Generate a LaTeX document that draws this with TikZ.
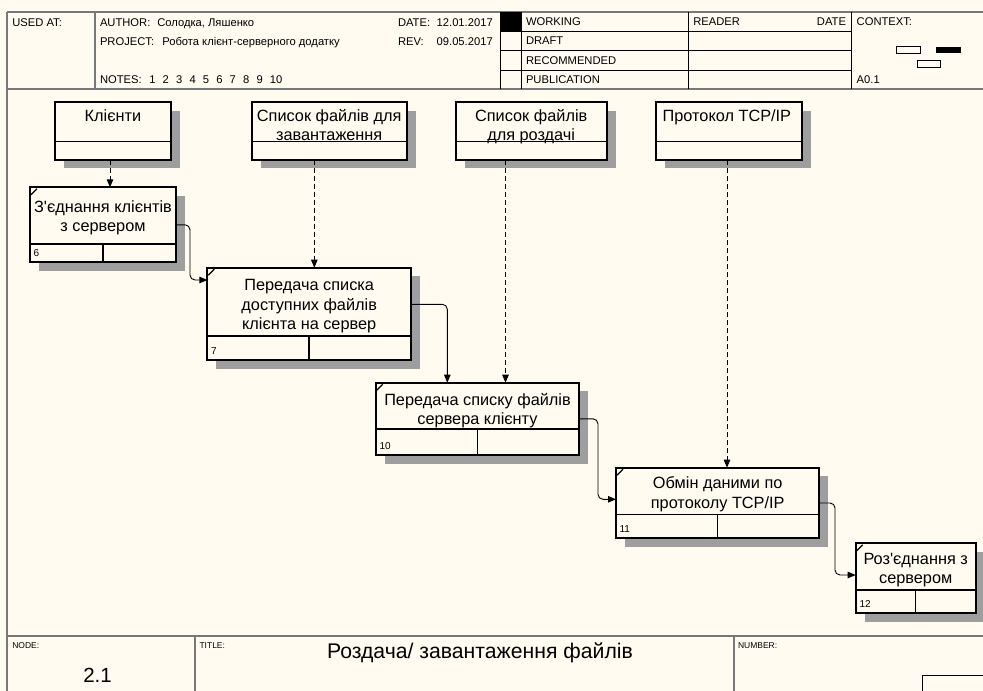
\documentclass[tikz,border=0pt]{standalone}
\usepackage{fontspec}
\setmainfont{Liberation Sans}[Ligatures=TeXOff]
\usetikzlibrary{calc,arrows.meta,shadows}
\definecolor{paper}{RGB}{255,251,240}
\definecolor{framegray}{RGB}{120,120,120}
\definecolor{shadowgray}{RGB}{158,158,158}

\begin{document}
\begin{tikzpicture}[x=1pt,y=-1pt,
  every node/.style={inner sep=0pt,outer sep=0pt},
  frameline/.style={draw=framegray,line width=2pt},
  cellline/.style={draw=black,line width=0.9pt},
  hdr/.style={font=\fontsize{11.2}{13}\selectfont,anchor=base west},
  tiny/.style={font=\fontsize{8.5}{10}\selectfont,anchor=base west},
  boxtxt/.style={font=\fontsize{16.3}{19}\selectfont,anchor=base},
  numtxt/.style={font=\fontsize{10}{12}\selectfont,anchor=base west},
  idefbox/.style={draw,line width=1.8pt,fill=paper,anchor=north west,
    drop shadow={shadow xshift=9pt,shadow yshift=-8.5pt,fill=shadowgray,opacity=1}},
  flow/.style={draw,line width=0.9pt,rounded corners=5pt,
    -{Triangle[length=8pt,width=6.5pt]}},
  ctrl/.style={draw,line width=0.9pt,dash pattern=on 5pt off 3pt,
    -{Triangle[length=8pt,width=6.5pt]}}
]
\useasboundingbox (0,0) rectangle (983,691);
\fill[paper] (0,0) rectangle (983,691);

% ---------- header block ----------
\draw[frameline] (7,12) -- (983,12);
\draw[frameline] (7,89) -- (983,89);
\draw[frameline] (7,12) -- (7,691);
\draw[draw=framegray,line width=1.5pt] (95,12) -- (95,89);
\fill[black] (500,12) rectangle (521.7,31.7);
\foreach \x in {500,521.7,688,851} \draw[cellline] (\x,12) -- (\x,89);
\foreach \y in {31.7,50.5,70} \draw[cellline] (500,\y) -- (851,\y);

\node[hdr] (usedat) at (12.3,26) {USED AT:};
\node[hdr] (author) at (100,26) {AUTHOR:};
\node[hdr] (authors) at (157.3,26) {Солодка, Ляшенко};
\node[hdr] (project) at (100,45.5) {PROJECT:};
\node[hdr] (projname) at (162.3,45.5) {Робота клієнт-серверного додатку};
\node[hdr] (notes) at (100,83.3) {NOTES:};
\foreach \n [count=\i from 0] in {1,2,3,4,5,6,7,8,9,10}
  \node[hdr] (note\n) at (149.3+13.4*\i,83.3) {\n};
\node[hdr] (date) at (398,26) {DATE:};
\node[hdr] (dateval) at (436.7,26) {12.01.2017};
\node[hdr] (rev) at (398,45.5) {REV:};
\node[hdr] (revval) at (436.7,45.5) {09.05.2017};
\node[hdr] (working) at (526,25) {WORKING};
\node[hdr] (draft) at (526,44.3) {DRAFT};
\node[hdr] (recommended) at (526,64.3) {RECOMMENDED};
\node[hdr] (publication) at (526,83.3) {PUBLICATION};
\node[hdr] (reader) at (693.3,25) {READER};
\node[hdr,anchor=base east] (readerdate) at (846,25) {DATE};
\node[hdr] (context) at (856.7,25) {CONTEXT:};
\node[hdr] (ctxnum) at (856.7,83.3) {A0.1};
% context miniature
\draw[line width=0.8pt,fill=paper] (896.7,46.7) rectangle (920,53.3);
\fill[black] (935.7,46.7) rectangle (961,53.3);
\draw[line width=0.8pt,fill=paper] (917,60.3) rectangle (940.7,67);

% ---------- footer block ----------
\draw[frameline] (7,636) -- (983,636);
\draw[draw=framegray,line width=1.5pt] (195,636) -- (195,691);
\draw[draw=framegray,line width=1.5pt] (734,636) -- (734,691);
\draw[line width=0.9pt] (922,691) -- (922,675.5) -- (983,675.5);
\node[tiny] (nodelbl) at (12.3,648.3) {NODE:};
\node[tiny] (titlelbl) at (199.5,648.3) {TITLE:};
\node[tiny] (numberlbl) at (738,648.3) {NUMBER:};
\node[font=\fontsize{20.5}{24}\selectfont,anchor=base] (nodeval) at (97.5,682) {2.1};
\node[font=\fontsize{21.2}{25}\selectfont,anchor=base] (title) at (480,658.5) {Роздача/ завантаження файлів};

% ---------- tunnel boxes (inputs / controls) ----------
\node[idefbox,minimum width=116pt,minimum height=57.5pt] (t1) at (55,102.3) {};
\node[idefbox,minimum width=155pt,minimum height=57.5pt] (t2) at (251.7,102.3) {};
\node[idefbox,minimum width=151pt,minimum height=57.5pt] (t3) at (455.7,102.3) {};
\node[idefbox,minimum width=146pt,minimum height=57.5pt] (t4) at (655.7,102.3) {};
\foreach \b in {t1,t2,t3,t4}
  \draw[line width=1.5pt] ($(\b.north west)+(0,39.4)$) -- ($(\b.north east)+(0,39.4)$);

\node[boxtxt] (t1a) at (113,121) {Клієнти};
\node[boxtxt] (t2a) at (329.2,121) {Список файлів для};
\node[boxtxt] (t2b) at (329.2,140) {завантаження};
\node[boxtxt] (t3a) at (531.2,121) {Список файлів};
\node[boxtxt] (t3b) at (531.2,140) {для роздачі};
\node[boxtxt] (t4a) at (726.9,121) {Протокол TCP/IP};

% ---------- activity boxes ----------
\node[idefbox,minimum width=146pt,minimum height=75pt] (a6) at (30,187.3) {};
\node[idefbox,minimum width=203.7pt,minimum height=92.3pt] (b7) at (207.3,267.7) {};
\node[idefbox,minimum width=203.6pt,minimum height=72.3pt] (c10) at (375.7,382.7) {};
\node[idefbox,minimum width=203.3pt,minimum height=70.6pt] (d11) at (616,467.7) {};
\node[idefbox,minimum width=120pt,minimum height=70pt] (e12) at (855.7,543.3) {};

% footer strip of each activity: divider, split and corner tick
\foreach \b/\h in {a6/18.3,b7/24,c10/26,d11/24,e12/23.3}{
  \draw[line width=1.5pt] ($(\b.south west)+(0,-\h)$) -- ($(\b.south east)+(0,-\h)$);
  \draw[line width=1.5pt] ($(\b.south)+(0,-\h)$) -- (\b.south);
  \draw[line width=1.2pt] ($(\b.north west)+(1,7.5)$) -- ($(\b.north west)+(7,1.5)$);
}
\node[numtxt] (n6) at (33.5,256) {6};
\node[numtxt] (n7) at (211,354) {7};
\node[numtxt] (n10) at (379.5,449) {10};
\node[numtxt] (n11) at (619.5,532.3) {11};
\node[numtxt] (n12) at (859.5,607.3) {12};

\node[boxtxt] (a6a) at (103,212) {З'єднання клієнтів};
\node[boxtxt] (a6b) at (103,231) {з сервером};
\node[boxtxt] (b7a) at (309.2,290) {Передача списка};
\node[boxtxt] (b7b) at (309.2,310) {доступних файлів};
\node[boxtxt] (b7c) at (309.2,329.5) {клієнта на сервер};
\node[boxtxt] (c10a) at (477.5,405) {Передача списку файлів};
\node[boxtxt] (c10b) at (477.5,424) {сервера клієнту};
\node[boxtxt] (d11a) at (717.7,488.3) {Обмін даними по};
\node[boxtxt] (d11b) at (717.7,508.3) {протоколу TCP/IP};
\node[boxtxt] (e12a) at (915.7,564) {Роз'єднання з};
\node[boxtxt] (e12b) at (915.7,583.3) {сервером};

% ---------- control arrows (dashed) ----------
\draw[ctrl] (t1.south -| 110,0) -- (a6.north -| 110,0);
\draw[ctrl] (t2.south -| 314.3,0) -- (b7.north -| 314.3,0);
\draw[ctrl] (t3.south -| 505.5,0) -- (c10.north -| 505.5,0);
\draw[ctrl] (t4.south -| 727,0) -- (d11.north -| 727,0);

% ---------- output-to-input flows ----------
\coordinate (binp) at ($(b7.north west)+(0,12.3)$);
\coordinate (bout) at ($(b7.north east)+(0,36.6)$);
\coordinate (cinp) at ($(c10.north west)+(71.6,0)$);
\coordinate (dinp) at ($(d11.north west)+(0,31.6)$);
\coordinate (einp) at ($(e12.north west)+(0,31.7)$);
\draw[flow] (a6.east) -| ($(binp)+(-17.3,0)$) -- (binp);
\draw[flow] (bout) -| (cinp);
\draw[flow] (c10.east) -| ($(dinp)+(-18,0)$) -- (dinp);
\draw[flow] (d11.east) -| ($(einp)+(-20.7,0)$) -- (einp);
\end{tikzpicture}
\end{document}
